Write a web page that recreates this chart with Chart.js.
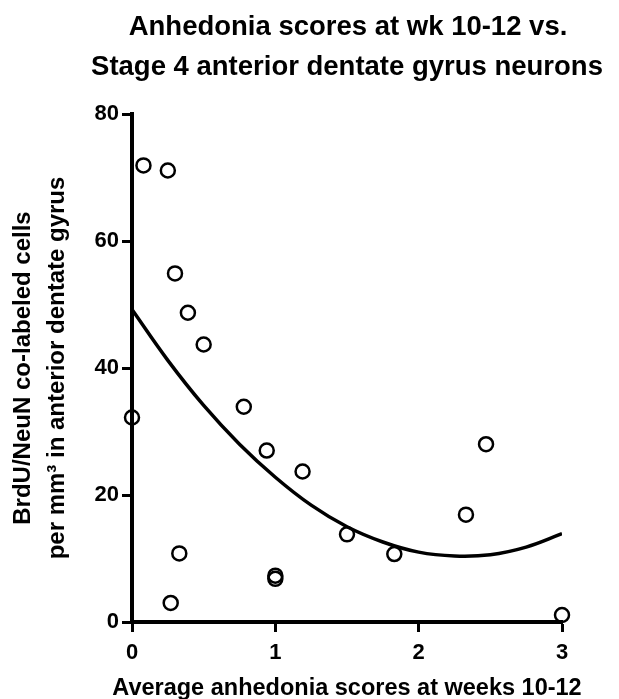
<!DOCTYPE html>
<html>
<head>
<meta charset="utf-8">
<script src="https://cdn.jsdelivr.net/npm/chart.js@4/dist/chart.umd.min.js"></script>
<style>
  body { margin: 0; background: #fff; }
</style>
</head>
<body>
<canvas id="myChart" width="619" height="699"></canvas>
<script>
// observed points: average anhedonia score vs. BrdU/NeuN cells per mm3
const anhedonia = [0.08, 0.25, 0.30, 0.39, 0.50, 0.78, 0.94, 1.19, 0.00, 0.33, 0.27, 1.00, 1.00, 1.50, 1.83, 2.33, 2.47, 3.00];
const neurons = [71.9, 71.1, 54.9, 48.7, 43.7, 33.9, 27.0, 23.7, 32.2, 10.8, 3.0, 6.8, 7.3, 13.8, 10.7, 16.9, 28.0, 1.1];

// fitted curve
const fitX = [0, 0.25, 0.5, 0.75, 1, 1.25, 1.5, 1.75, 2, 2.25, 2.5, 2.75, 3];
const fitY = [49.2, 41.2, 34.1, 28.0, 22.8, 18.4, 15.0, 12.6, 11.0, 10.4, 10.6, 11.8, 13.9];

const xTicks = [0, 1, 2, 3];
const yTicks = [0, 20, 40, 60, 80];

const titleLines = ['Anhedonia scores at wk 10-12 vs.', 'Stage 4 anterior dentate gyrus neurons'];
const xTitle = 'Average anhedonia scores at weeks 10-12';
const yTitleLines = ['BrdU/NeuN co-labeled cells', 'per mm\u00B3 in anterior dentate gyrus'];

const FONT = '"Liberation Sans", Arial, Helvetica, sans-serif';

// title and x-axis title are wider than the plot, so draw them centred on the plot by hand
const titlesPlugin = {
    id: 'titles',
    afterDraw(chart) {
        const { ctx, chartArea } = chart;
        const cx = (chartArea.left + chartArea.right) / 2;
        ctx.save();
        ctx.fillStyle = '#000';
        ctx.textAlign = 'center';
        ctx.textBaseline = 'alphabetic';
        ctx.font = 'bold 27.5px ' + FONT;
        ctx.fillText(titleLines[0], cx + 1, 35);
        ctx.fillText(titleLines[1], cx, 74.5);
        ctx.font = 'bold 23.5px ' + FONT;
        ctx.fillText(xTitle, cx, chartArea.bottom + 73);
        ctx.restore();
    }
};

function initChart() {
    const points = anhedonia.map((x, i) => ({ x: x, y: neurons[i] }));
    const curve = fitX.map((x, i) => ({ x: x, y: fitY[i] }));

    const axisGrid = {
        display: true,
        drawOnChartArea: false,
        drawTicks: true,
        tickLength: 10,
        tickWidth: 3,
        tickColor: '#000'
    };

    const ctx = document.getElementById('myChart').getContext('2d');
    new Chart(ctx, {
        type: 'scatter',
        data: {
            datasets: [{
                label: 'data',
                data: points,
                pointRadius: 7,
                pointHoverRadius: 7,
                pointBorderWidth: 2.5,
                pointBorderColor: '#000',
                pointBackgroundColor: 'rgba(0,0,0,0)',
                showLine: false,
                clip: false
            }, {
                label: 'fit',
                data: curve,
                showLine: true,
                pointRadius: 0,
                borderColor: '#000',
                borderWidth: 3.5,
                tension: 0.4,
                fill: false
            }]
        },
        options: {
            responsive: false,
            animation: false,
            devicePixelRatio: 1,
            layout: {
                padding: { left: 0, right: 57, top: 114, bottom: 0 }
            },
            plugins: {
                legend: { display: false },
                tooltip: { enabled: false },
                title: { display: false }
            },
            scales: {
                x: {
                    type: 'linear',
                    min: 0,
                    max: 3,
                    afterBuildTicks: (scale) => {
                        scale.ticks = xTicks.map(v => ({ value: v }));
                    },
                    afterFit: (scale) => {
                        scale.height = 77;
                    },
                    ticks: {
                        color: '#000',
                        padding: 8,
                        font: { family: FONT, size: 22, weight: 'bold' }
                    },
                    grid: axisGrid,
                    border: { display: true, color: '#000', width: 4 }
                },
                y: {
                    type: 'linear',
                    min: 0,
                    max: 80,
                    afterBuildTicks: (scale) => {
                        scale.ticks = yTicks.map(v => ({ value: v }));
                    },
                    afterFit: (scale) => {
                        scale.width = 132;
                    },
                    ticks: {
                        color: '#000',
                        padding: 3,
                        font: { family: FONT, size: 22, weight: 'bold' }
                    },
                    grid: axisGrid,
                    border: { display: true, color: '#000', width: 4 },
                    title: {
                        display: true,
                        text: yTitleLines,
                        color: '#000',
                        font: { family: FONT, size: 24, weight: 'bold', lineHeight: 1.42 },
                        padding: { top: 6, bottom: 0 }
                    }
                }
            }
        },
        plugins: [titlesPlugin]
    });
}

initChart();
</script>
</body>
</html>
